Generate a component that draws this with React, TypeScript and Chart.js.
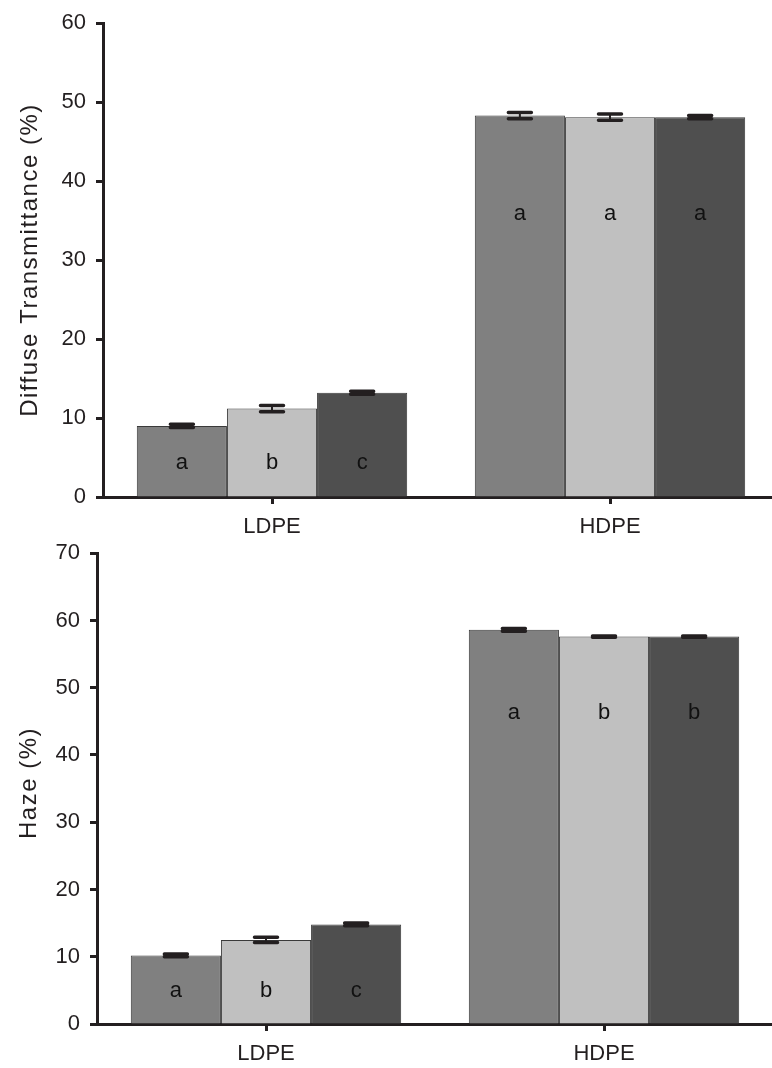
import React, { useEffect, useRef } from "react";
import { Chart, registerables } from "chart.js";

Chart.register(...registerables);

// ---------- data ----------
const categories = ["LDPE", "HDPE"];
const seriesNames = ["Treatment 1", "Treatment 2", "Treatment 3"];
const seriesColors = ["#808080", "#c0c0c0", "#4f4f4f"];

// Diffuse transmittance (%)
const diffuseS1 = [9.0, 48.3];
const diffuseS2 = [11.2, 48.1];
const diffuseS3 = [13.2, 48.1];
const diffuseErr1 = [0.2, 0.4];
const diffuseErr2 = [0.4, 0.4];
const diffuseErr3 = [0.2, 0.2];
const diffuseLetters1 = ["a", "a"];
const diffuseLetters2 = ["b", "a"];
const diffuseLetters3 = ["c", "a"];
const diffuseLetterLevel = [4.3, 35.9];
const diffuseTicksMax = 60;

// Haze (%)
const hazeS1 = [10.2, 58.6];
const hazeS2 = [12.5, 57.6];
const hazeS3 = [14.8, 57.6];
const hazeErr1 = [0.2, 0.2];
const hazeErr2 = [0.4, 0.1];
const hazeErr3 = [0.2, 0.1];
const hazeLetters1 = ["a", "a"];
const hazeLetters2 = ["b", "b"];
const hazeLetters3 = ["c", "b"];
const hazeLetterLevel = [4.9, 46.3];
const hazeTicksMax = 70;

const INK = "#231f20";
const FONT = "'Liberation Sans', Arial, Helvetica, sans-serif";

type PanelProps = {
  top: number;
  width: number;
  height: number;
  axisLeft: number;
  plotTop: number;
  plotBottom: number;
  yMax: number;
  title: string;
  titleX: number;
  titleY: number;
  values: number[][];
  errors: number[][];
  letters: string[][];
  letterLevel: number[];
};

function Panel(p: PanelProps) {
  const ref = useRef<HTMLCanvasElement | null>(null);

  useEffect(() => {
    const canvas = ref.current;
    if (!canvas) return;

    const decor = {
      id: "decor",
      afterDatasetsDraw(chart: any) {
        const ctx = chart.ctx;
        const yScale = chart.scales.y;
        ctx.save();
        // letters
        ctx.fillStyle = "#111111";
        ctx.font = `22px ${FONT}`;
        ctx.textAlign = "center";
        ctx.textBaseline = "middle";
        chart.data.datasets.forEach((ds: any, di: number) => {
          const meta = chart.getDatasetMeta(di);
          meta.data.forEach((bar: any, i: number) => {
            const ly = yScale.getPixelForValue(p.letterLevel[i]);
            ctx.fillText(p.letters[di][i], bar.x, ly);
          });
        });
        // error bars
        ctx.strokeStyle = INK;
        chart.data.datasets.forEach((ds: any, di: number) => {
          const meta = chart.getDatasetMeta(di);
          meta.data.forEach((bar: any, i: number) => {
            const v = p.values[di][i];
            const e = p.errors[di][i];
            const yHi = yScale.getPixelForValue(v + e);
            const yLo = yScale.getPixelForValue(v - e);
            const half = 11.5;
            ctx.lineWidth = 2;
            ctx.beginPath();
            ctx.moveTo(bar.x, yHi);
            ctx.lineTo(bar.x, yLo);
            ctx.stroke();
            ctx.lineWidth = 3.5;
            ctx.lineCap = "round";
            ctx.beginPath();
            ctx.moveTo(bar.x - half, yHi);
            ctx.lineTo(bar.x + half, yHi);
            ctx.moveTo(bar.x - half, yLo);
            ctx.lineTo(bar.x + half, yLo);
            ctx.stroke();
            ctx.lineCap = "butt";
          });
        });
        // y title
        ctx.fillStyle = INK;
        ctx.font = `24px ${FONT}`;
        (ctx as any).letterSpacing = "1.5px";
        ctx.translate(p.titleX, p.titleY - p.top);
        ctx.rotate(-Math.PI / 2);
        ctx.textAlign = "center";
        ctx.textBaseline = "middle";
        ctx.fillText(p.title, 0, 0);
        (ctx as any).letterSpacing = "0px";
        ctx.restore();
      },
    };

    const chart = new Chart(canvas, {
      type: "bar",
      data: {
        labels: categories,
        datasets: p.values.map((vals, i) => ({
          label: seriesNames[i],
          data: vals,
          backgroundColor: seriesColors[i],
          borderColor: "#3a3a3a",
          borderWidth: 1,
          borderSkipped: "bottom",
          categoryPercentage: 0.8,
          barPercentage: 1.0,
        })),
      },
      options: {
        animation: false,
        responsive: false,
        devicePixelRatio: 1,
        layout: {
          padding: { top: p.plotTop, left: 0, right: 0, bottom: 0 },
        },
        plugins: {
          legend: { display: false },
          tooltip: { enabled: false },
          title: { display: false },
        },
        scales: {
          x: {
            type: "category",
            offset: true,
            afterFit(scale: any) {
              scale.height = p.height - p.plotBottom;
            },
            grid: {
              display: true,
              drawOnChartArea: false,
              offset: false,
              tickLength: 7,
              tickWidth: 3,
              tickColor: INK,
            },
            border: { display: true, width: 3, color: INK },
            ticks: {
              color: INK,
              font: { family: FONT, size: 22 },
              padding: 10,
              maxRotation: 0,
            },
          },
          y: {
            type: "linear",
            min: 0,
            max: p.yMax,
            afterFit(scale: any) {
              scale.width = p.axisLeft;
            },
            grid: {
              display: true,
              drawOnChartArea: false,
              tickLength: 7,
              tickWidth: 3,
              tickColor: INK,
            },
            border: { display: true, width: 3, color: INK },
            ticks: {
              stepSize: 10,
              color: INK,
              font: { family: FONT, size: 22 },
              padding: 10,
            },
          },
        },
      },
      plugins: [decor],
    } as any);

    return () => chart.destroy();
  }, []);

  return (
    <canvas
      ref={ref}
      width={p.width}
      height={p.height}
      style={{
        position: "absolute",
        left: 0,
        top: p.top,
        width: p.width,
        height: p.height,
      }}
    />
  );
}

export default function App() {
  return (
    <div
      style={{
        position: "absolute",
        left: 0,
        top: 0,
        width: 772,
        height: 1068,
        overflow: "hidden",
        background: "#ffffff",
      }}
    >
      <Panel
        top={0}
        width={779}
        height={545}
        axisLeft={103}
        plotTop={23}
        plotBottom={497}
        yMax={diffuseTicksMax}
        title="Diffuse Transmittance (%)"
        titleX={30}
        titleY={260}
        values={[diffuseS1, diffuseS2, diffuseS3]}
        errors={[diffuseErr1, diffuseErr2, diffuseErr3]}
        letters={[diffuseLetters1, diffuseLetters2, diffuseLetters3]}
        letterLevel={diffuseLetterLevel}
      />
      <Panel
        top={530}
        width={773}
        height={538}
        axisLeft={97}
        plotTop={21}
        plotBottom={494}
        yMax={hazeTicksMax}
        title="Haze (%)"
        titleX={29}
        titleY={783}
        values={[hazeS1, hazeS2, hazeS3]}
        errors={[hazeErr1, hazeErr2, hazeErr3]}
        letters={[hazeLetters1, hazeLetters2, hazeLetters3]}
        letterLevel={hazeLetterLevel}
      />
    </div>
  );
}
